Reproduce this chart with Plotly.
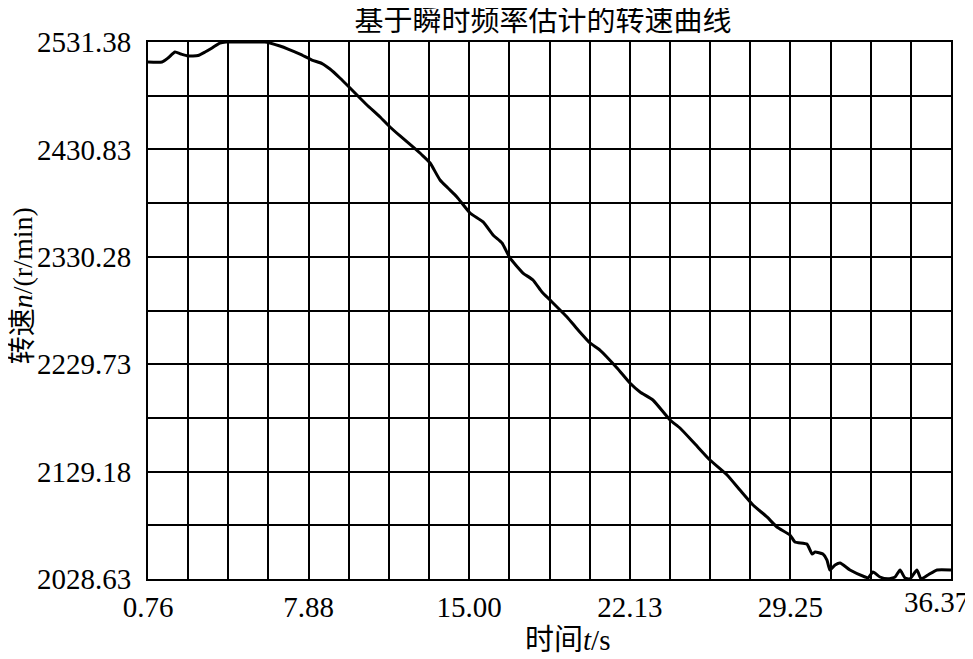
import plotly.graph_objects as go

# ---- data ----
time_s = [0.76, 1.38, 1.65, 1.96, 2.22, 2.53, 2.98, 3.29, 3.60, 3.95, 4.22, 5.06, 5.95,
          6.17, 6.61, 6.97, 7.50, 8.03, 8.48, 8.83, 9.27, 9.72, 10.07, 10.47, 11.05,
          11.49, 11.94, 12.51, 12.91, 13.27, 13.71, 14.06, 14.46, 15.04, 15.62, 16.06,
          16.46, 16.81, 17.39, 17.83, 18.23, 18.59, 19.34, 19.83, 20.36, 20.80, 21.56,
          22.13, 22.58, 23.15, 23.91, 24.35, 25.02, 25.68, 26.44, 27.01, 27.59, 28.21,
          28.65, 29.23, 29.45, 29.98, 30.21, 30.34, 30.69, 30.87, 31.00, 31.23, 31.45,
          31.89, 32.56, 32.69, 32.91, 33.22, 33.58, 33.89, 34.11, 34.33, 34.55, 34.86,
          35.04, 35.35, 35.75, 36.37]
speed_rpm = [2512.6, 2512.6, 2516.4, 2522.0, 2520.1, 2518.3, 2518.7, 2522.0, 2525.8,
             2530.4, 2531.38, 2531.38, 2531.38, 2530.4, 2527.6, 2524.8, 2520.1, 2514.5,
             2511.2, 2506.1, 2497.7, 2488.3, 2480.8, 2472.4, 2461.2, 2451.8, 2443.4,
             2433.1, 2425.6, 2418.1, 2402.2, 2394.7, 2386.3, 2371.3, 2362.9, 2350.7,
             2343.2, 2329.2, 2315.1, 2308.6, 2297.3, 2289.8, 2273.9, 2261.8, 2249.6,
             2243.0, 2226.2, 2212.1, 2203.7, 2196.2, 2177.5, 2170.0, 2155.0, 2140.0,
             2126.0, 2111.9, 2097.9, 2086.7, 2077.3, 2069.8, 2063.3, 2061.4, 2052.0,
             2053.9, 2052.0, 2046.4, 2037.1, 2041.7, 2043.6, 2037.1, 2030.5, 2029.6,
             2035.2, 2030.5, 2028.8, 2030.5, 2037.1, 2029.6, 2028.8, 2037.1, 2028.8,
             2032.4, 2037.1, 2037.1]

x_tick_labels = ["0.76", "7.88", "15.00", "22.13", "29.25", "36.37"]
y_tick_labels = ["2028.63", "2129.18", "2229.73", "2330.28", "2430.83", "2531.38"]

X_MIN, X_MAX = 0.76, 36.37
Y_MIN, Y_MAX = 2028.63, 2531.38
N_XGRID, N_YGRID = 20, 10

title_text = "基于瞬时频率估计的转速曲线"
x_title = "时间<i>t</i>/s"
y_title = "转速<i>n</i>/(r/min)"

# ---- grid / tick positions derived from axis spec ----
x_grid = [X_MIN + i * (X_MAX - X_MIN) / N_XGRID for i in range(N_XGRID + 1)]
y_grid = [Y_MIN + i * (Y_MAX - Y_MIN) / N_YGRID for i in range(N_YGRID + 1)]
x_major = x_grid[::4]
y_major = y_grid[::2]

SERIF = "Liberation Serif, Times New Roman, serif"
CJK = "Liberation Serif, Noto Sans CJK SC, serif"

fig = go.Figure()
fig.add_trace(go.Scatter(x=time_s, y=speed_rpm, mode="lines",
                         line=dict(color="black", width=3, shape="spline", smoothing=0.5),
                         cliponaxis=False, showlegend=False, hoverinfo="skip"))

fig.update_layout(
    width=965, height=651,
    margin=dict(l=140, r=22, t=34, b=80),
    paper_bgcolor="white", plot_bgcolor="white",
    title=dict(text=title_text, x=0.492, xref="paper", xanchor="center",
               y=0.981, yref="container", yanchor="middle",
               font=dict(family="Noto Sans CJK SC", size=29, color="black")),
    xaxis=dict(range=[X_MIN, X_MAX], tickmode="array", tickvals=x_major[:-1],
               ticktext=x_tick_labels[:-1], ticks="", showgrid=True,
               gridcolor="black", gridwidth=1.6, zeroline=False,
               showline=True, linecolor="black", linewidth=2, mirror=True,
               tickfont=dict(family=SERIF, size=29, color="black"),
               ticklabelstandoff=1,
               minor=dict(tickmode="array", tickvals=x_grid, showgrid=True,
                          gridcolor="black", gridwidth=1.6, ticks="")),
    yaxis=dict(range=[Y_MIN, Y_MAX], tickmode="array", tickvals=y_major,
               ticktext=y_tick_labels, ticks="", showgrid=True,
               gridcolor="black", gridwidth=1.6, zeroline=False,
               showline=True, linecolor="black", linewidth=2, mirror=True,
               tickfont=dict(family=SERIF, size=29, color="black"),
               ticklabelstandoff=9,
               minor=dict(tickmode="array", tickvals=y_grid, showgrid=True,
                          gridcolor="black", gridwidth=1.6, ticks="")),
    annotations=[
        dict(text=x_tick_labels[-1], xref="paper", yref="paper", x=1, y=0,
             xanchor="right", yanchor="top", xshift=20, yshift=-5, showarrow=False,
             font=dict(family=SERIF, size=29, color="black")),
        dict(text=x_title, xref="paper", yref="paper", x=0.522, y=0,
             xanchor="center", yanchor="middle", yshift=-61, showarrow=False,
             font=dict(family=CJK, size=29, color="black")),
        dict(text=y_title, xref="paper", yref="paper", x=0, y=0.545,
             xanchor="center", yanchor="middle", xshift=-126, textangle=-90,
             showarrow=False, font=dict(family=CJK, size=28, color="black")),
    ],
)

fig.write_html("out.html")
